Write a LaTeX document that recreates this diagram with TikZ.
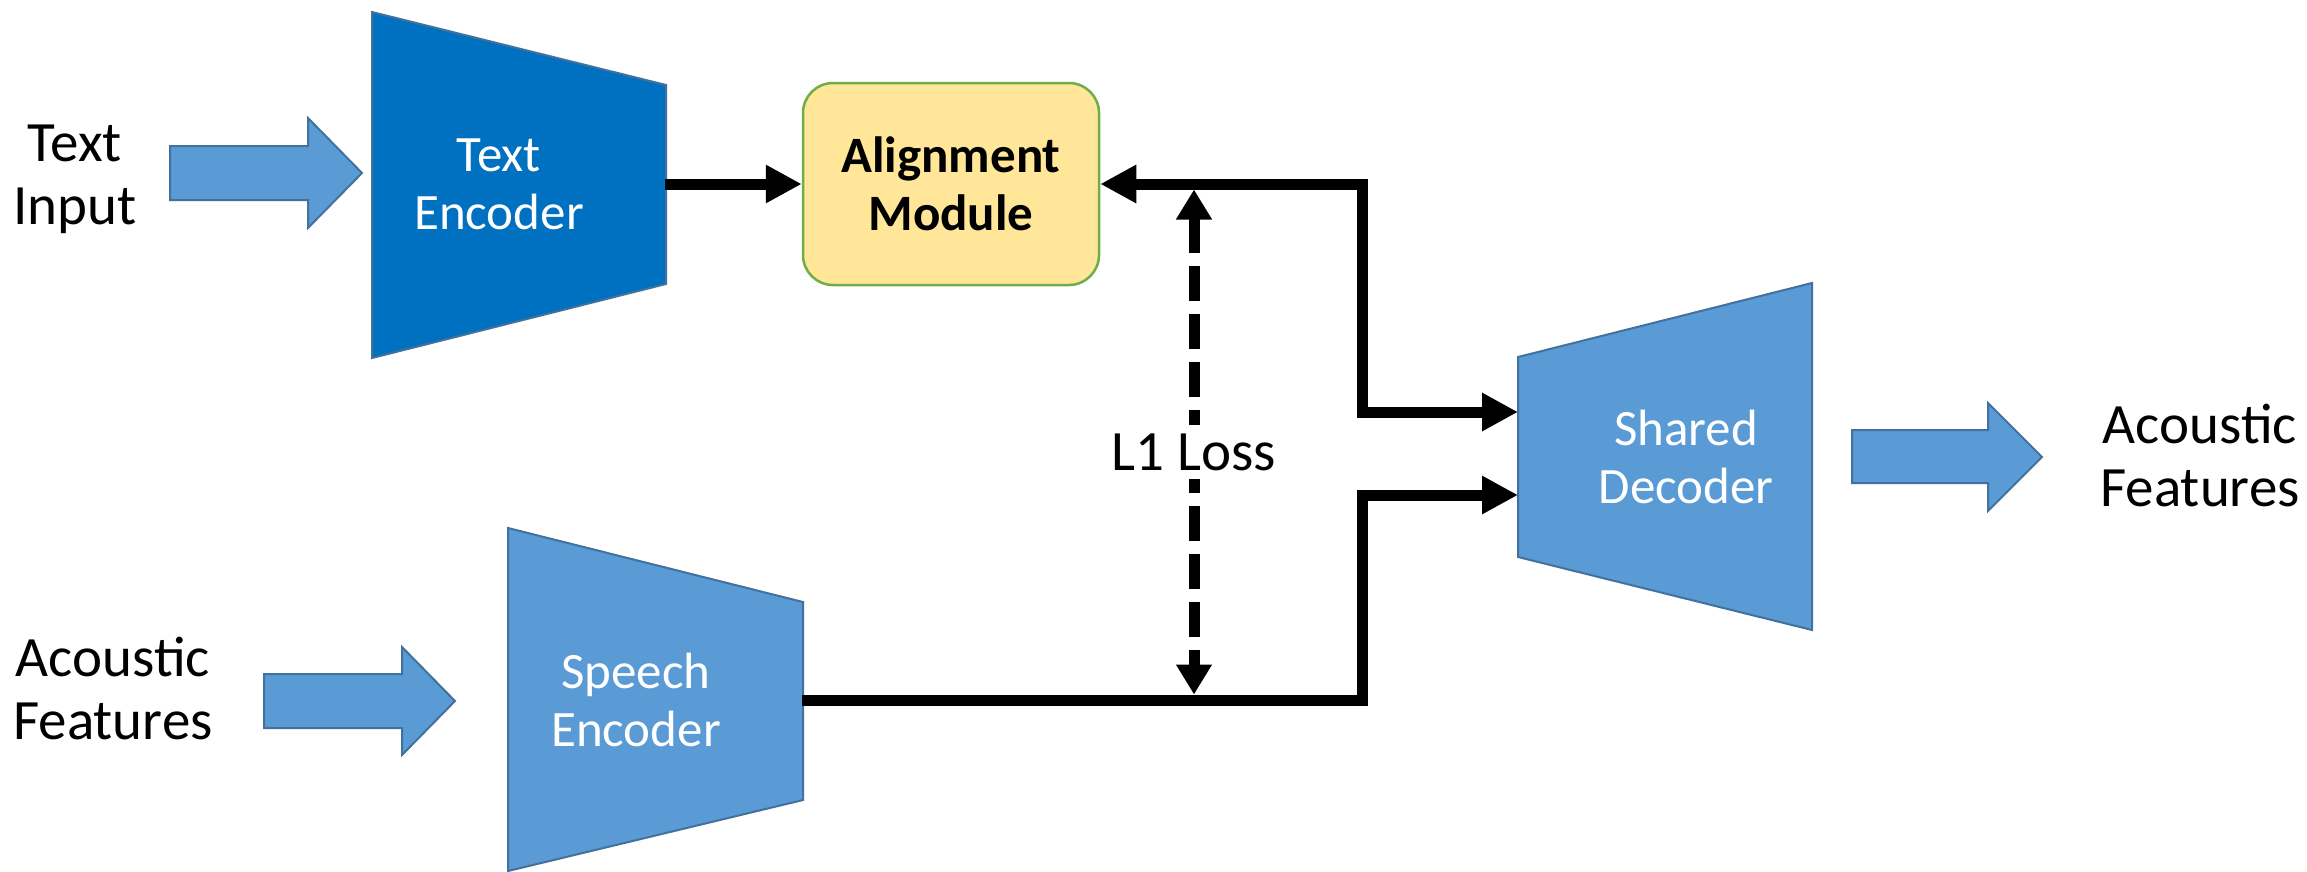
\documentclass[tikz,border=0pt]{standalone}
\usepackage{fontspec}
\setmainfont{Carlito}
\usetikzlibrary{arrows.meta}
\definecolor{tblue}{HTML}{0070C0}
\definecolor{lblue}{HTML}{5B9BD5}
\definecolor{bord}{HTML}{41719C}
\definecolor{ayel}{HTML}{FFE699}
\definecolor{agrn}{HTML}{70AD47}
\begin{document}
\begin{tikzpicture}[x=1pt,y=-1pt,
  blk/.style={draw=bord, line width=2pt, line join=miter},
  lbl/.style={align=center, inner sep=0pt, font=\fontsize{57}{63}\selectfont},
  wlbl/.style={align=center, inner sep=0pt, text=white, font=\fontsize{51}{58}\selectfont},
  conn/.style={line width=11pt, line join=miter, -{Triangle[length=36pt,width=36pt]}},
  dconn/.style={line width=11pt, dash pattern=on 35pt off 13pt, {Triangle[length=30pt,width=34pt]}-{Triangle[length=30pt,width=34pt]}}
]
\useasboundingbox (0,0) rectangle (2307,871);

% Text encoder
\draw[blk, fill=tblue] (372,12) -- (666,85) -- (666,284) -- (372,358) -- cycle;
\node[wlbl] (tenc) at (499,184) {Text\\Encoder};
\coordinate (tencout) at (665,184);

% Text input block arrow
\draw[blk, fill=lblue] (170,146) -- (308,146) -- (308,118) -- (362,173) -- (308,228) -- (308,200) -- (170,200) -- cycle;
\node[lbl] (tin) at (75,179) {Text\\Input};

% Alignment module
\node[draw=agrn, line width=2.5pt, fill=ayel, rounded corners=30pt, minimum width=296pt, minimum height=202pt, align=center, inner sep=0pt, font=\fontsize{51}{58}\selectfont\bfseries] (align) at (951,184) {Alignment\\Module};

% Speech encoder
\draw[blk, fill=lblue] (508,528) -- (803,602) -- (803,800) -- (508,871) -- cycle;
\node[wlbl] (senc) at (636,700) {Speech\\Encoder};
\coordinate (sencout) at (802,700);

% Acoustic input block arrow
\draw[blk, fill=lblue] (264,674) -- (402,674) -- (402,647) -- (455,701) -- (402,755) -- (402,728) -- (264,728) -- cycle;
\node[lbl] (ain) at (113,688) {Acoustic\\Features};

% Shared decoder
\draw[blk, fill=lblue] (1518,357) -- (1812,283) -- (1812,630) -- (1518,557) -- cycle;
\node[wlbl] (dec) at (1686,457) {Shared\\Decoder};
\coordinate (decin1) at (1518,412);
\coordinate (decin2) at (1518,495);

% Output block arrow
\draw[blk, fill=lblue] (1852,430) -- (1988,430) -- (1988,403) -- (2042,457) -- (1988,511) -- (1988,483) -- (1852,483) -- cycle;
\node[lbl] (aout) at (2200,455) {Acoustic\\Features};

% Connectors
\draw[conn] (tencout) -- (align.west);
\draw[conn, {Triangle[length=36pt,width=36pt]}-{Triangle[length=36pt,width=36pt]}] (align.east) -- (1362,184) |- (decin1);
\draw[conn] (sencout) -- (1362,700) |- (decin2);

% L1 loss
\coordinate (losstop) at (1194,184);
\coordinate (lossbot) at (1194,700);
\draw[dconn] ([yshift=-5.5pt]losstop) -- ([yshift=5.5pt]lossbot);
\node[lbl, fill=white, inner sep=8pt] (loss) at (1194,452) {L1 Loss};
\end{tikzpicture}
\end{document}
